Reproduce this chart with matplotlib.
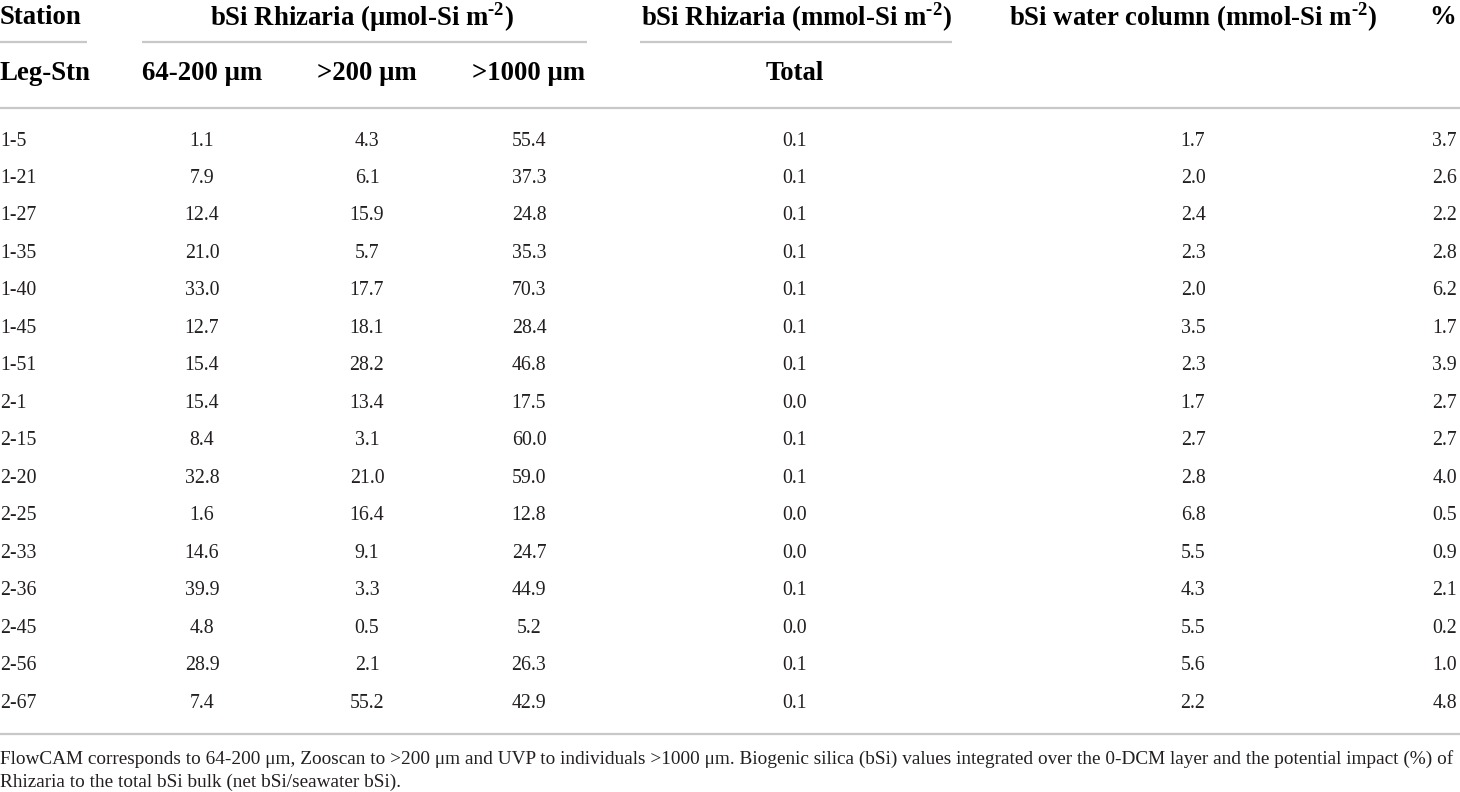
import matplotlib
matplotlib.use("Agg")
import matplotlib.pyplot as plt

plt.rcParams['font.family'] = ['Liberation Serif', 'DejaVu Serif']
plt.rcParams['mathtext.fontset'] = 'custom'
plt.rcParams['mathtext.rm'] = 'Liberation Serif'

stations = ["1-5", "1-21", "1-27", "1-35", "1-40", "1-45", "1-51", "2-1",
            "2-15", "2-20", "2-25", "2-33", "2-36", "2-45", "2-56", "2-67"]
flowcam = [1.1, 7.9, 12.4, 21.0, 33.0, 12.7, 15.4, 15.4,
           8.4, 32.8, 1.6, 14.6, 39.9, 4.8, 28.9, 7.4]
zooscan = [4.3, 6.1, 15.9, 5.7, 17.7, 18.1, 28.2, 13.4,
           3.1, 21.0, 16.4, 9.1, 3.3, 0.5, 2.1, 55.2]
uvp = [55.4, 37.3, 24.8, 35.3, 70.3, 28.4, 46.8, 17.5,
       60.0, 59.0, 12.8, 24.7, 44.9, 5.2, 26.3, 42.9]
total = [0.1, 0.1, 0.1, 0.1, 0.1, 0.1, 0.1, 0.0,
         0.1, 0.1, 0.0, 0.0, 0.1, 0.0, 0.1, 0.1]
water = [1.7, 2.0, 2.4, 2.3, 2.0, 3.5, 2.3, 1.7,
         2.7, 2.8, 6.8, 5.5, 4.3, 5.5, 5.6, 2.2]
percent = [3.7, 2.6, 2.2, 2.8, 6.2, 1.7, 3.9, 2.7,
           2.7, 4.0, 0.5, 0.9, 2.1, 0.2, 1.0, 4.8]

SUP = "$^{\\mathregular{\u20102}}$"
header1 = ["Station",
           "bSi Rhizaria (μmol-Si m" + SUP + ")",
           "bSi Rhizaria (mmol-Si m" + SUP + ")",
           "bSi water column (mmol-Si m" + SUP + ")",
           "%"]
header2 = ["Leg-Stn", "64-200 μm", ">200 μm", ">1000 μm", "Total"]
footnote = ["FlowCAM corresponds to 64-200 μm, Zooscan to >200 μm and UVP to individuals >1000 μm. "
            "Biogenic silica (bSi) values integrated over the 0-DCM layer and the potential impact (%) of",
            "Rhizaria to the total bSi bulk (net bSi/seawater bSi)."]

W, H = 1460, 792
fig = plt.figure(figsize=(W / 100, H / 100), dpi=100)
ax = fig.add_axes([0, 0, 1, 1])
ax.set_xlim(0, W)
ax.set_ylim(H, 0)
ax.axis('off')

line_color = '#c8c8c8'
txt_color = '#231f20'
hsize = 19.3
dsize = 14.3
fsize = 13.9

# column anchors (x, ha)
col_x = [0, 202, 367, 529, 795, 1193, 1457]
col_ha = ['left', 'center', 'center', 'center', 'center', 'center', 'right']

# header row 1
h1_x = [0, 362, 796, 1193, 1456]
h1_ha = ['left', 'center', 'center', 'center', 'right']
for t, x, ha in zip(header1, h1_x, h1_ha):
    ax.text(x, 17, t, ha=ha, va='center', fontsize=hsize, fontweight='bold', color='black')

# header underlines
for x0, x1 in [(0, 87), (142, 587), (640, 952)]:
    ax.plot([x0, x1], [42, 42], color=line_color, lw=1.6, solid_capstyle='butt')

# header row 2
for i, t in enumerate(header2):
    ax.text(col_x[i], 74, t, ha=col_ha[i], va='center', fontsize=hsize, fontweight='bold', color='black')

ax.plot([0, W], [108, 108], color=line_color, lw=1.6, solid_capstyle='butt')

# data rows
y0, dy = 141, 37.47
cols = [stations, flowcam, zooscan, uvp, total, water, percent]
for r in range(len(stations)):
    y = y0 + r * dy
    for c, col in enumerate(cols):
        v = col[r]
        s = v if isinstance(v, str) else f"{v:.1f}"
        ax.text(col_x[c], y, s, ha=col_ha[c], va='center', fontsize=dsize, color=txt_color)

ax.plot([0, W], [734, 734], color=line_color, lw=1.6, solid_capstyle='butt')

# footnote
for i, t in enumerate(footnote):
    ax.text(0, 759 + i * 23, t, ha='left', va='center', fontsize=fsize, color=txt_color)

fig.savefig("out.png", dpi=100, facecolor='white')
